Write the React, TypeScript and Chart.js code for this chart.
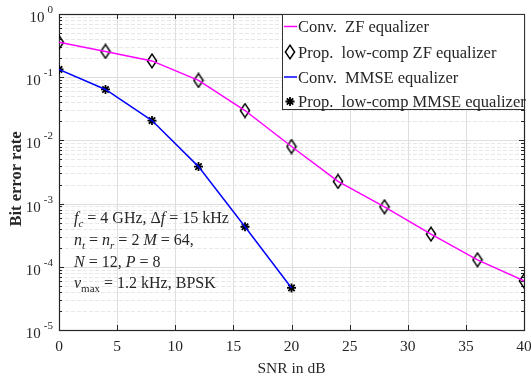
import React, { useEffect, useRef } from 'react';
import { Chart, registerables } from 'chart.js';

Chart.register(...registerables);

// ---- data ----
const snrZF = [0, 4, 8, 12, 16, 20, 24, 28, 32, 36, 40];
const berConvZF = [0.356, 0.256, 0.181, 0.089, 0.0297, 0.008, 0.00224, 0.00089, 0.000329, 0.000129, 0.0000598];
const berPropZF = [0.356, 0.256, 0.181, 0.089, 0.0297, 0.008, 0.00224, 0.00089, 0.000329, 0.000129, 0.0000598];
const snrMMSE = [0, 4, 8, 12, 16, 20];
const berConvMMSE = [0.1327, 0.064, 0.0206, 0.00385, 0.00043, 0.0000463];
const berPropMMSE = [0.1327, 0.064, 0.0206, 0.00385, 0.00043, 0.0000463];
const xTickValues = [0, 5, 10, 15, 20, 25, 30, 35, 40];
const yExponents = [0, -1, -2, -3, -4, -5];
const legendLabels = [
  'Conv.  ZF equalizer',
  'Prop.  low-comp ZF equalizer',
  'Conv.  MMSE equalizer',
  'Prop.  low-comp MMSE equalizer',
];
const xTitle = 'SNR in dB';
const yTitle = 'Bit error rate';

type Seg = { t: string; it?: boolean; sub?: boolean };
const annotationLines: Seg[][] = [
  [{ t: 'f', it: true }, { t: 'c', it: true, sub: true }, { t: ' = 4 GHz, Δ' }, { t: 'f', it: true }, { t: ' = 15 kHz' }],
  [{ t: 'n', it: true }, { t: 't', it: true, sub: true }, { t: ' = ' }, { t: 'n', it: true }, { t: 'r', it: true, sub: true }, { t: ' = 2 ' }, { t: 'M', it: true }, { t: ' = 64,' }],
  [{ t: 'N', it: true }, { t: ' = 12, ' }, { t: 'P', it: true }, { t: ' = 8' }],
  [{ t: 'ν', it: true }, { t: 'max', sub: true }, { t: ' = 1.2 kHz, BPSK' }],
];

const FONT = '"Liberation Serif", "Times New Roman", serif';
const TEXT = '#262626';
const MAGENTA = '#ff00ff';
const BLUE = '#0000ff';

function makeDiamond(): HTMLCanvasElement {
  const c = document.createElement('canvas');
  c.width = 12;
  c.height = 16;
  const g = c.getContext('2d')!;
  g.strokeStyle = '#000';
  g.lineWidth = 1.5;
  g.beginPath();
  g.moveTo(6, 1.2);
  g.lineTo(10.6, 8);
  g.lineTo(6, 14.8);
  g.lineTo(1.4, 8);
  g.closePath();
  g.stroke();
  return c;
}

function drawStar(ctx: CanvasRenderingContext2D, x: number, y: number, r: number) {
  ctx.save();
  ctx.strokeStyle = '#000';
  ctx.lineWidth = 1.8;
  ctx.beginPath();
  for (let k = 0; k < 4; k++) {
    const a = (k * Math.PI) / 4;
    ctx.moveTo(x - r * Math.cos(a), y - r * Math.sin(a));
    ctx.lineTo(x + r * Math.cos(a), y + r * Math.sin(a));
  }
  ctx.stroke();
  ctx.restore();
}

function drawSegs(ctx: CanvasRenderingContext2D, x: number, y: number, segs: Seg[], size: number) {
  let cx = x;
  for (const s of segs) {
    const sz = s.sub ? Math.round(size * 0.7) : size;
    ctx.font = `${s.it ? 'italic ' : ''}${sz}px ${FONT}`;
    ctx.fillText(s.t, cx, y + (s.sub ? size * 0.22 : 0));
    cx += ctx.measureText(s.t).width;
  }
}

const customPlugin = {
  id: 'matlabStyle',
  beforeDatasetsDraw(chart: any) {
    const { ctx, chartArea, scales } = chart;
    const { left, right, top, bottom } = chartArea;
    const x = scales.x;
    const y = scales.y;
    ctx.save();
    ctx.lineWidth = 1;
    ctx.strokeStyle = '#e8e8e8';
    ctx.setLineDash([4, 2]);
    for (let e = -5; e < 0; e++) {
      for (let m = 2; m <= 9; m++) {
        const py = Math.round(y.getPixelForValue(m * Math.pow(10, e))) + 0.5;
        ctx.beginPath();
        ctx.moveTo(left, py);
        ctx.lineTo(right, py);
        ctx.stroke();
      }
    }
    ctx.setLineDash([]);
    ctx.strokeStyle = '#dedede';
    for (const e of yExponents) {
      const py = Math.round(y.getPixelForValue(Math.pow(10, e))) + 0.5;
      ctx.beginPath();
      ctx.moveTo(left, py);
      ctx.lineTo(right, py);
      ctx.stroke();
    }
    for (const v of xTickValues) {
      const px = Math.round(x.getPixelForValue(v)) + 0.5;
      ctx.beginPath();
      ctx.moveTo(px, top);
      ctx.lineTo(px, bottom);
      ctx.stroke();
    }
    ctx.strokeStyle = TEXT;
    for (let e = -5; e <= 0; e++) {
      for (let m = 1; m <= 9; m++) {
        if (e === 0 && m > 1) break;
        const py = Math.round(y.getPixelForValue(m * Math.pow(10, e))) + 0.5;
        const len = m === 1 ? 5 : 3;
        ctx.beginPath();
        ctx.moveTo(left, py);
        ctx.lineTo(left + len, py);
        ctx.moveTo(right, py);
        ctx.lineTo(right - len, py);
        ctx.stroke();
      }
    }
    for (const v of xTickValues) {
      const px = Math.round(x.getPixelForValue(v)) + 0.5;
      ctx.beginPath();
      ctx.moveTo(px, bottom);
      ctx.lineTo(px, bottom - 5);
      ctx.moveTo(px, top);
      ctx.lineTo(px, top + 5);
      ctx.stroke();
    }
    ctx.lineWidth = 1.2;
    ctx.strokeStyle = TEXT;
    ctx.strokeRect(Math.round(left) + 0.5, Math.round(top) + 0.5, Math.round(right - left), Math.round(bottom - top));
    ctx.restore();
  },
  afterDraw(chart: any) {
    const { ctx, chartArea, scales } = chart;
    const { left, right, top, bottom } = chartArea;
    const y = scales.y;
    ctx.save();
    ctx.fillStyle = TEXT;
    for (const e of yExponents) {
      const py = y.getPixelForValue(Math.pow(10, e));
      const expText = String(e);
      ctx.font = `11px ${FONT}`;
      ctx.textAlign = 'right';
      ctx.textBaseline = 'alphabetic';
      const ew = ctx.measureText(expText).width;
      ctx.fillText(expText, 53, py - 1);
      ctx.font = `15px ${FONT}`;
      ctx.fillText('10', 53 - ew - 3, py + 8);
    }
    ctx.save();
    ctx.translate(17, (top + bottom) / 2 + 7);
    ctx.rotate(-Math.PI / 2);
    ctx.font = `bold 16.5px ${FONT}`;
    ctx.textAlign = 'center';
    ctx.textBaseline = 'middle';
    ctx.fillText(yTitle, 0, 0);
    ctx.restore();

    ctx.textAlign = 'left';
    ctx.textBaseline = 'alphabetic';
    const baselines = [223, 245, 267, 288];
    annotationLines.forEach((segs, i) => drawSegs(ctx, left + 15, baselines[i], segs, 16));

    const bx = 282.5;
    const by = Math.round(top) + 0.5;
    const bw = Math.round(right) - 282;
    const bh = 95;
    ctx.fillStyle = '#ffffff';
    ctx.fillRect(bx, by, bw, bh);
    ctx.strokeStyle = '#333333';
    ctx.lineWidth = 1;
    ctx.strokeRect(bx, by, bw, bh);
    const rows = [26.5, 52, 77, 101.5];
    const lb = [32, 57.5, 82.5, 107];
    for (let i = 0; i < 4; i++) {
      const ry = rows[i];
      if (i === 0 || i === 2) {
        ctx.strokeStyle = i === 0 ? MAGENTA : BLUE;
        ctx.lineWidth = 1.5;
        ctx.beginPath();
        ctx.moveTo(284, ry);
        ctx.lineTo(297, ry);
        ctx.stroke();
      } else if (i === 1) {
        ctx.drawImage(diamondImg, 290 - 6, ry - 8);
      } else {
        drawStar(ctx, 290, ry, 4.5);
      }
      ctx.fillStyle = TEXT;
      ctx.font = `16.5px ${FONT}`;
      ctx.fillText(legendLabels[i], 298, lb[i]);
    }
    ctx.restore();
  },
};

const diamondImg = makeDiamond();

export default function App() {
  const ref = useRef<HTMLCanvasElement>(null);
  useEffect(() => {
    document.body.style.margin = '0';
    const canvas = ref.current!;
    const chart = new Chart(canvas, {
      type: 'line',
      data: {
        datasets: [
          {
            label: legendLabels[0],
            data: snrZF.map((v, i) => ({ x: v, y: berConvZF[i] })),
            borderColor: MAGENTA,
            borderWidth: 1.5,
            pointRadius: 0,
            tension: 0,
          },
          {
            label: legendLabels[2],
            data: snrMMSE.map((v, i) => ({ x: v, y: berConvMMSE[i] })),
            borderColor: BLUE,
            borderWidth: 1.5,
            pointRadius: 0,
            tension: 0,
          },
          {
            label: legendLabels[1],
            data: snrZF.map((v, i) => ({ x: v, y: berPropZF[i] })),
            showLine: false,
            pointStyle: diamondImg as any,
            pointRadius: 6,
            borderColor: '#000',
            backgroundColor: 'rgba(0,0,0,0)',
          },
          {
            label: legendLabels[3],
            data: snrMMSE.map((v, i) => ({ x: v, y: berPropMMSE[i] })),
            showLine: false,
            pointStyle: 'star',
            pointRadius: 4.5,
            borderWidth: 1.8,
            borderColor: '#000',
            backgroundColor: '#000',
          },
        ],
      },
      options: {
        animation: false,
        responsive: false,
        events: [],
        layout: { padding: { top: 14, right: 3, left: 0, bottom: 0 } },
        plugins: { legend: { display: false }, tooltip: { enabled: false } },
        scales: {
          x: {
            type: 'linear',
            min: 0,
            max: 40,
            afterBuildTicks: (s: any) => {
              s.ticks = xTickValues.map((v) => ({ value: v }));
            },
            ticks: {
              font: { family: FONT, size: 15.5 },
              color: TEXT,
              padding: 8,
              maxRotation: 0,
              autoSkip: false,
            },
            grid: { display: true, drawOnChartArea: false, drawTicks: false },
            border: { display: false },
            title: {
              display: true,
              text: xTitle,
              font: { family: FONT, size: 15.5 },
              color: TEXT,
              padding: { top: 0, bottom: 4 },
            },
            afterFit: (s: any) => {
              s.height = 52;
              s.paddingLeft = 0;
              s.paddingRight = 0;
            },
          },
          y: {
            type: 'logarithmic',
            min: 1e-5,
            max: 1,
            ticks: { display: false },
            grid: { display: false },
            border: { display: false },
            afterFit: (s: any) => {
              s.width = 59;
              s.paddingTop = 0;
              s.paddingBottom = 0;
            },
          },
        },
      },
      plugins: [customPlugin],
    });
    return () => chart.destroy();
  }, []);
  return (
    <div style={{ position: 'absolute', left: 0, top: 0, width: 531, height: 382 }}>
      <canvas ref={ref} width={531} height={382} />
    </div>
  );
}
